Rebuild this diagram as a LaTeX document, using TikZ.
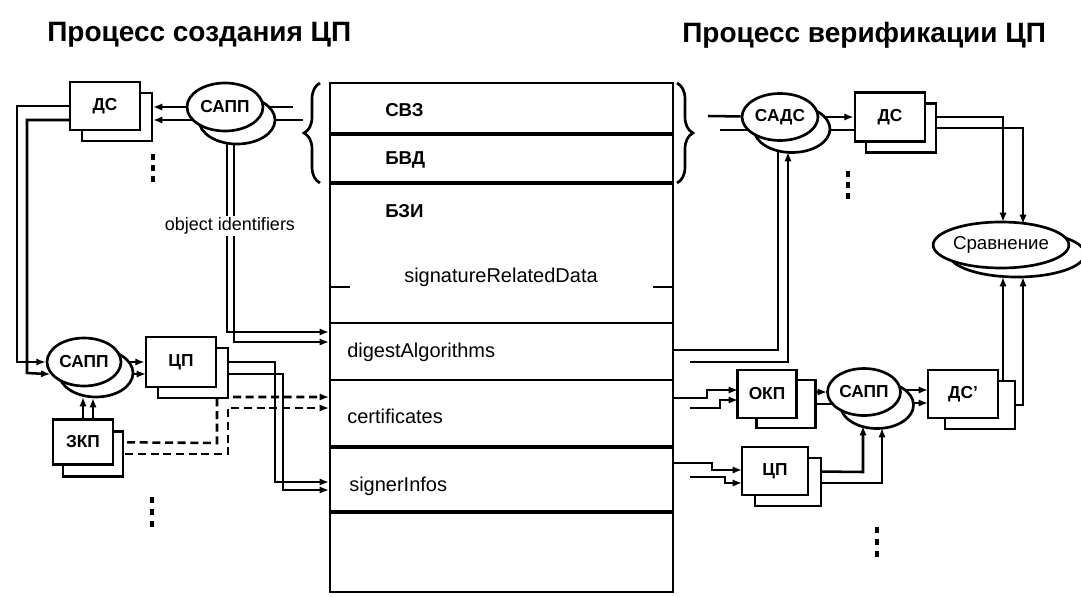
\documentclass[tikz,border=0pt]{standalone}
\usepackage{fontspec}
\setmainfont{Liberation Sans}
\usetikzlibrary{shapes.geometric,shadows,backgrounds,decorations.pathreplacing,arrows.meta}
\begin{document}
\begin{tikzpicture}[x=0.75pt,y=-0.75pt,
  ln/.style={line width=1.9pt},
  arr/.style={-{Latex[length=7pt,width=5.5pt]}},
  dsh/.style={dash pattern=on 6pt off 3.5pt},
  blk/.style={draw,line width=2pt,fill=white,inner sep=0pt,font=\bfseries\fontsize{13}{15}\selectfont},
  rbox/.style={blk,rectangle},
  ebox/.style={blk,ellipse},
  sh/.style 2 args={copy shadow={shadow xshift=#1, shadow yshift=#2, draw, fill=white, line width=2pt}},
  lbl/.style={font=\fontsize{15}{17}\selectfont, anchor=west, inner sep=0pt},
  slbl/.style={font=\bfseries\fontsize{14}{16}\selectfont, anchor=west, inner sep=0pt},
  ttl/.style={font=\bfseries\fontsize{21}{24}\selectfont, anchor=west, inner sep=0pt},
  vdots/.style={fill=black}
]
\useasboundingbox (0,0) rectangle (1081,596);

% titles
\node[ttl] (t1) at (47,35) {Процесс создания ЦП};
\node[ttl] (t2) at (682,35) {Процесс верификации ЦП};

% left side nodes
\node[rbox,sh={9pt}{-8.25pt},minimum width=52.5pt,minimum height=36pt] (dsL) at (105,106) {ДС};
\node[ebox,sh={9pt}{-9.75pt},minimum width=57pt,minimum height=36pt] (sappL) at (225,107) {САПП};
\node[ebox,sh={9pt}{-8.25pt},minimum width=55.5pt,minimum height=36pt] (sapp2) at (84,362) {САПП};
\node[rbox,sh={9pt}{-8.25pt},minimum width=52.5pt,minimum height=37.5pt] (clL) at (181,362) {ЦП};
\node[rbox,sh={7.5pt}{-9pt},minimum width=45pt,minimum height=33.75pt] (zkp) at (83,442) {ЗКП};

% right side nodes
\node[ebox,sh={9pt}{-9pt},minimum width=57pt,minimum height=35.25pt] (sads) at (780,117) {САДС};
\node[rbox,sh={8.25pt}{-8.25pt},minimum width=52.5pt,minimum height=36.75pt] (dsR) at (890,117) {ДС};
\node[ebox,sh={12pt}{-6.75pt},minimum width=84pt,minimum height=34.5pt,font=\fontsize{14}{16}\selectfont] (cmp) at (1001,245) {Сравнение};
\node[rbox,sh={14.25pt}{-7.5pt},minimum width=44.25pt,minimum height=36pt] (okp) at (767,394) {ОКП};
\node[ebox,sh={9.75pt}{-9.75pt},minimum width=54.75pt,minimum height=35.25pt] (sapp3) at (864,392) {САПП};
\node[rbox,sh={12.75pt}{-8.25pt},minimum width=52.5pt,minimum height=36pt] (dsp) at (963,394) {ДС'};
\node[rbox,sh={9.75pt}{-8.25pt},minimum width=49.5pt,minimum height=36pt] (clR) at (775,471) {ЦП};

% main structure
\draw[line width=2.2pt] (330,83) rectangle (673,592);
\draw[line width=2.8pt] (330,134) -- (673,134) (330,183) -- (673,183);
\draw[line width=2.2pt] (330,323) -- (673,323);
\draw[line width=1.8pt] (330,380) -- (673,380);
\draw[line width=2.6pt] (330,447) -- (673,447) (330,512) -- (673,512);
\draw[line width=2.2pt] (330,287) -- (350,287) (653,287) -- (673,287);
\node[slbl] (svz) at (385,110) {СВЗ};
\node[slbl] (bvd) at (385,160) {БВД};
\node[slbl] (bzi) at (385,211) {БЗИ};
\node[lbl,anchor=center] (srd) at (501,277) {signatureRelatedData};
\node[lbl] (dA) at (347,352) {digestAlgorithms};
\node[lbl] (cert) at (347,416) {certificates};
\node[lbl] (sI) at (349,486) {signerInfos};

% braces
\draw[line width=2pt,decorate,decoration={brace,amplitude=12pt}] (320,183) -- (320,83);
\draw[line width=2pt,decorate,decoration={brace,amplitude=12pt}] (677,83) -- (677,183);

% dots
\foreach \x/\y in {153/157,153/168,153/179, 848/174,848/185,848/196, 152/500,152/512,152/524, 877/530,877/542,877/554}
  \fill[vdots] (\x-2,\y-3) rectangle (\x+2,\y+3);

\node[font=\fontsize{13.5}{15}\selectfont,fill=white,inner sep=1pt] (oid) at (230,226) {object identifiers};

\begin{scope}[on background layer]
% left side connectors
\draw[ln,arr] (sappL) -- (153,107);
\draw[ln,arr] (230,120) -- (153,120);
\draw[ln] (sappL) -- (293,107);
\draw[ln] (240,120) -- (303,120);
\draw[ln,arr] (227,110) -- (227,332) -- (329,332);
\draw[ln,arr] (234,125) -- (234,342) -- (329,342);
\draw[ln,arr] (dsL) -- (17,106) -- (17,362) -- (sapp2.west);
\draw[ln,arr] (90,120) -- (27,120) -- (27,373) -- (sapp2.200);
\draw[ln,arr] (sapp2) -- (clL.west);
\draw[ln,arr] (95,374) -- (146,374);
\draw[ln,arr] (zkp) -- (83,397);
\draw[ln,arr] (93,442) -- (93,398);
\draw[ln,dsh,arr] (zkp) -- (217,443) -- (217,397) -- (329,397);
\draw[ln,dsh,arr] (100,454) -- (228,454) -- (228,408) -- (329,408);
\draw[ln,arr] (clL) -- (275,362) -- (275,482) -- (329,482);
\draw[ln,arr] (190,374) -- (283,374) -- (283,490) -- (329,490);
% right side connectors
\draw[ln] (708,116) -- (sads);
\draw[ln] (720,130) -- (790,130);
\draw[ln,arr] (sads) -- (dsR.west);
\draw[ln] (800,130) -- (855,130);
\draw[ln,arr] (dsR) -- (1003,117) -- (1003,222);
\draw[ln,arr] (900,128) -- (1023,128) -- (1023,224);
\draw[ln,arr] (990,382) -- (1003,382) -- (1003,277);
\draw[ln,arr] (1000,405) -- (1023,405) -- (1023,277);
\draw[ln] (673,350) -- (778,350) -- (sads.south -| 778,0);
\draw[ln,arr] (690,362) -- (788,362) -- (788,152);
\draw[ln,arr] (673,398) -- (707,398) -- (707,390) -- (738,390);
\draw[ln,arr] (690,408) -- (720,408) -- (720,400) -- (738,400);
\draw[ln,arr] (780,392) -- (827,392);
\draw[ln] (800,404) -- (840,404);
\draw[ln,arr] (870,390) -- (928,390);
\draw[ln,arr] (885,403) -- (928,403);
\draw[ln,arr] (673,463) -- (712,463) -- (712,470) -- (742,470);
\draw[ln,arr] (690,477) -- (725,477) -- (725,483) -- (742,483);
\draw[ln,arr] (clR) -- (863,472) -- (863,426);
\draw[ln,arr] (800,483) -- (882,483) -- (882,428);
\end{scope}
\end{tikzpicture}
\end{document}
